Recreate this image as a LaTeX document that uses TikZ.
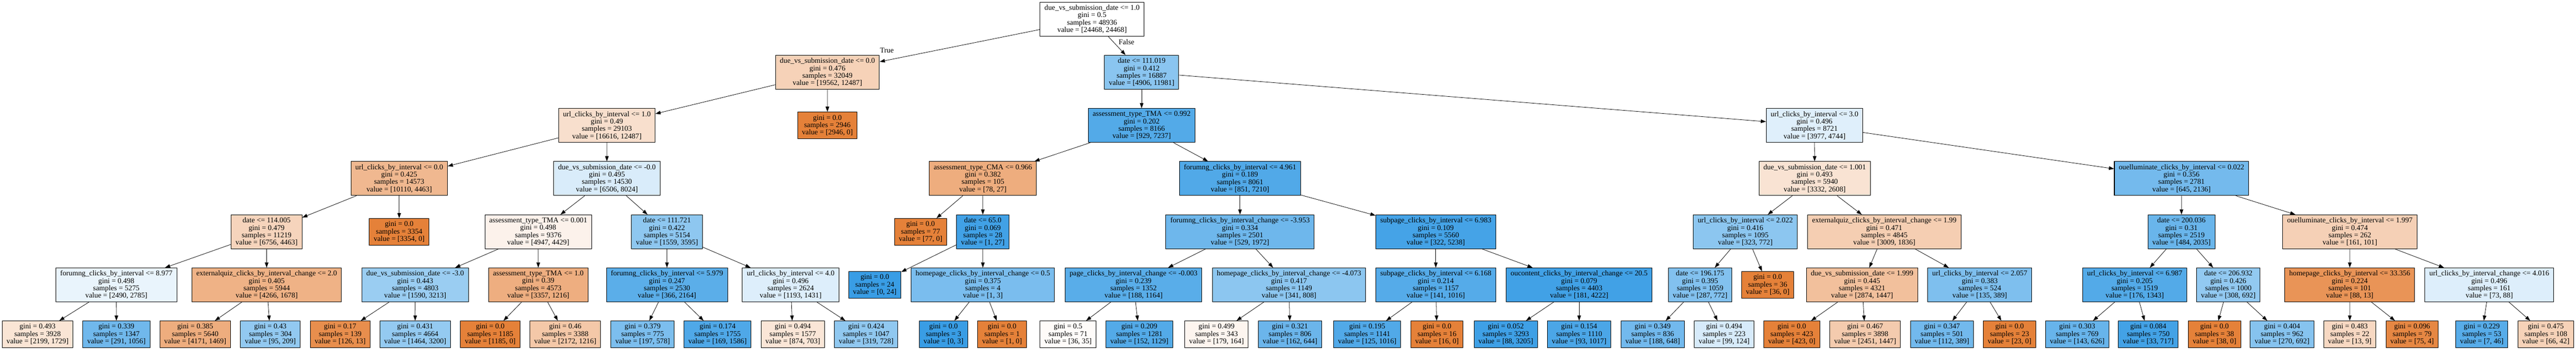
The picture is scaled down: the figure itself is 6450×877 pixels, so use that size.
\documentclass[tikz,border=0pt]{standalone}
\usepackage{fontspec}
\setmainfont{Liberation Serif}
\usepackage{tikz}
\usetikzlibrary{arrows.meta}
\definecolor{clsA}{RGB}{229,129,57}
\definecolor{clsB}{RGB}{57,157,229}
\newcommand{\dtfont}{\fontsize{18.5}{18.5}\selectfont}
\tikzstyle{split}=[draw, rectangle, line width=1.3pt, inner xsep=11pt, inner ysep=0pt, minimum height=85pt, align=center, font=\dtfont]
\tikzstyle{leaf}=[split, minimum height=67pt]
\tikzstyle{from}=[<-, >={Triangle[length=13pt,width=9pt]}, line width=1pt]
\tikzstyle{lbl}=[font=\dtfont, inner sep=2pt]
% fill: class colour, shaded by (max-second)/max
\tikzset{val/.code 2 args={%
    \ifnum#1>#2\relax \def\dtcol{clsA}\edef\dtshade{\the\numexpr100*(#1-#2)/#1\relax}%
    \else \def\dtcol{clsB}\edef\dtshade{\the\numexpr100*(#2-#1)/#2\relax}\fi
    \pgfkeysalso{fill=\dtcol!\dtshade!white}}}

\begin{document}
\begin{tikzpicture}[x=1pt, y=-1pt]
    \useasboundingbox (0,0) rectangle (6450,877);
        \node[split, val={24468}{24468}] (T) at (2734.4, 48) {due\_vs\_submission\_date <= 1.0\\gini = 0.5\\samples = 48936\\value = [24468, 24468]}
        ;
        % left half
        \node[split, val={19562}{12487}] (TL) at (2071.8, 181) {due\_vs\_submission\_date <= 0.0\\gini = 0.476\\samples = 32049\\value = [19562, 12487]}
            edge[from] node[lbl, pos=0.045, above=16pt] (lt) {True} (T)
        ;
        \node[split, val={16616}{12487}] (TLL) at (1519.5, 314.5) {url\_clicks\_by\_interval <= 1.0\\gini = 0.49\\samples = 29103\\value = [16616, 12487]}
            edge[from] (TL)
        ;
        \node[split, val={10110}{4463}] (TLLL) at (999.5, 447.5) {url\_clicks\_by\_interval <= 0.0\\gini = 0.425\\samples = 14573\\value = [10110, 4463]}
            edge[from] (TLL)
        ;
        \node[split, val={6756}{4463}] (TLLLL) at (667.5, 581) {date <= 114.005\\gini = 0.479\\samples = 11219\\value = [6756, 4463]}
            edge[from] (TLLL)
        ;
        \node[split, val={2490}{2785}] (TLLLLL) at (291.3, 714) {forumng\_clicks\_by\_interval <= 8.977\\gini = 0.498\\samples = 5275\\value = [2490, 2785]}
            edge[from] (TLLLL)
        ;
        \node[leaf, val={2199}{1729}] (TLLLLLL) at (94, 838) {gini = 0.493\\samples = 3928\\value = [2199, 1729]}
            edge[from] (TLLLLL)
        ;
        \node[leaf, val={291}{1056}] (TLLLLLR) at (291.5, 838) {gini = 0.339\\samples = 1347\\value = [291, 1056]}
            edge[from] (TLLLLL)
        ;
        \node[split, val={4266}{1678}] (TLLLLR) at (667.7, 714) {externalquiz\_clicks\_by\_interval\_change <= 2.0\\gini = 0.405\\samples = 5944\\value = [4266, 1678]}
            edge[from] (TLLLL)
        ;
        \node[leaf, val={4171}{1469}] (TLLLLRL) at (488.8, 838) {gini = 0.385\\samples = 5640\\value = [4171, 1469]}
            edge[from] (TLLLLR)
        ;
        \node[leaf, val={95}{209}] (TLLLLRR) at (677, 838) {gini = 0.43\\samples = 304\\value = [95, 209]}
            edge[from] (TLLLLR)
        ;
        \node[leaf, val={3354}{0}] (TLLLR) at (999.5, 581) {gini = 0.0\\samples = 3354\\value = [3354, 0]}
            edge[from] (TLLL)
        ;
        \node[split, val={6506}{8024}] (TLLR) at (1519.6, 447.5) {due\_vs\_submission\_date <= -0.0\\gini = 0.495\\samples = 14530\\value = [6506, 8024]}
            edge[from] (TLL)
        ;
        \node[split, val={4947}{4429}] (TLLRL) at (1347.6, 581) {assessment\_type\_TMA <= 0.001\\gini = 0.498\\samples = 9376\\value = [4947, 4429]}
            edge[from] (TLLR)
        ;
        \node[split, val={1590}{3213}] (TLLRLL) at (1039.6, 714) {due\_vs\_submission\_date <= -3.0\\gini = 0.443\\samples = 4803\\value = [1590, 3213]}
            edge[from] (TLLRL)
        ;
        \node[leaf, val={126}{13}] (TLLRLLL) at (851.7, 838) {gini = 0.17\\samples = 139\\value = [126, 13]}
            edge[from] (TLLRLL)
        ;
        \node[leaf, val={1464}{3200}] (TLLRLLR) at (1039.5, 838) {gini = 0.431\\samples = 4664\\value = [1464, 3200]}
            edge[from] (TLLRLL)
        ;
        \node[split, val={3357}{1216}] (TLLRLR) at (1347.8, 714) {assessment\_type\_TMA <= 1.0\\gini = 0.39\\samples = 4573\\value = [3357, 1216]}
            edge[from] (TLLRL)
        ;
        \node[leaf, val={1185}{0}] (TLLRLRL) at (1227.5, 838) {gini = 0.0\\samples = 1185\\value = [1185, 0]}
            edge[from] (TLLRLR)
        ;
        \node[leaf, val={2172}{1216}] (TLLRLRR) at (1415.3, 838) {gini = 0.46\\samples = 3388\\value = [2172, 1216]}
            edge[from] (TLLRLR)
        ;
        \node[split, val={1559}{3595}] (TLLRR) at (1670, 581) {date <= 111.721\\gini = 0.422\\samples = 5154\\value = [1559, 3595]}
            edge[from] (TLLR)
        ;
        \node[split, val={366}{2164}] (TLLRRL) at (1670, 714) {forumng\_clicks\_by\_interval <= 5.979\\gini = 0.247\\samples = 2530\\value = [366, 2164]}
            edge[from] (TLLRR)
        ;
        \node[leaf, val={197}{578}] (TLLRRLL) at (1609, 838) {gini = 0.379\\samples = 775\\value = [197, 578]}
            edge[from] (TLLRRL)
        ;
        \node[leaf, val={169}{1586}] (TLLRRLR) at (1796.7, 838) {gini = 0.174\\samples = 1755\\value = [169, 1586]}
            edge[from] (TLLRRL)
        ;
        \node[split, val={1193}{1431}] (TLLRRR) at (1979.7, 714) {url\_clicks\_by\_interval <= 4.0\\gini = 0.496\\samples = 2624\\value = [1193, 1431]}
            edge[from] (TLLRR)
        ;
        \node[leaf, val={874}{703}] (TLLRRRL) at (1985, 838) {gini = 0.494\\samples = 1577\\value = [874, 703]}
            edge[from] (TLLRRR)
        ;
        \node[leaf, val={319}{728}] (TLLRRRR) at (2168.8, 838) {gini = 0.424\\samples = 1047\\value = [319, 728]}
            edge[from] (TLLRRR)
        ;
        \node[leaf, val={2946}{0}] (TLR) at (2071.7, 314.5) {gini = 0.0\\samples = 2946\\value = [2946, 0]}
            edge[from] (TL)
        ;
        % right half
        \node[split, val={4906}{11981}] (TR) at (2858.5, 181) {date <= 111.019\\gini = 0.412\\samples = 16887\\value = [4906, 11981]}
            edge[from] node[lbl, pos=0.7, right=11pt] (lf) {False} (T)
        ;
        \node[split, val={929}{7237}] (TRL) at (2858.5, 314.5) {assessment\_type\_TMA <= 0.992\\gini = 0.202\\samples = 8166\\value = [929, 7237]}
            edge[from] (TR)
        ;
        \node[split, val={78}{27}] (TRLL) at (2461, 447.5) {assessment\_type\_CMA <= 0.966\\gini = 0.382\\samples = 105\\value = [78, 27]}
            edge[from] (TRL)
        ;
        \node[leaf, val={77}{0}] (TRLLL) at (2305, 581) {gini = 0.0\\samples = 77\\value = [77, 0]}
            edge[from] (TRLL)
        ;
        \node[split, val={1}{27}] (TRLLR) at (2460.8, 581) {date <= 65.0\\gini = 0.069\\samples = 28\\value = [1, 27]}
            edge[from] (TRLL)
        ;
        \node[leaf, val={0}{24}] (TRLLRL) at (2190.4, 714) {gini = 0.0\\samples = 24\\value = [0, 24]}
            edge[from] (TRLLR)
        ;
        \node[split, val={1}{3}] (TRLLRR) at (2461, 714) {homepage\_clicks\_by\_interval\_change <= 0.5\\gini = 0.375\\samples = 4\\value = [1, 3]}
            edge[from] (TRLLR)
        ;
        \node[leaf, val={0}{3}] (TRLLRRL) at (2362.5, 838) {gini = 0.0\\samples = 3\\value = [0, 3]}
            edge[from] (TRLLRR)
        ;
        \node[leaf, val={1}{0}] (TRLLRRR) at (2509, 838) {gini = 0.0\\samples = 1\\value = [1, 0]}
            edge[from] (TRLLRR)
        ;
        \node[split, val={851}{7210}] (TRLR) at (3104.8, 447.5) {forumng\_clicks\_by\_interval <= 4.961\\gini = 0.189\\samples = 8061\\value = [851, 7210]}
            edge[from] (TRL)
        ;
        \node[split, val={529}{1972}] (TRLRL) at (3104.8, 581) {forumng\_clicks\_by\_interval\_change <= -3.953\\gini = 0.334\\samples = 2501\\value = [529, 1972]}
            edge[from] (TRLR)
        ;
        \node[split, val={188}{1164}] (TRLRLL) at (2838.2, 714) {page\_clicks\_by\_interval\_change <= -0.003\\gini = 0.239\\samples = 1352\\value = [188, 1164]}
            edge[from] (TRLRL)
        ;
        \node[leaf, val={36}{35}] (TRLRLLL) at (2674.3, 838) {gini = 0.5\\samples = 71\\value = [36, 35]}
            edge[from] (TRLRLL)
        ;
        \node[leaf, val={152}{1129}] (TRLRLLR) at (2852.7, 838) {gini = 0.209\\samples = 1281\\value = [152, 1129]}
            edge[from] (TRLRLL)
        ;
        \node[split, val={341}{808}] (TRLRLR) at (3227.5, 714) {homepage\_clicks\_by\_interval\_change <= -4.073\\gini = 0.417\\samples = 1149\\value = [341, 808]}
            edge[from] (TRLRL)
        ;
        \node[leaf, val={179}{164}] (TRLRLRL) at (3046, 838) {gini = 0.499\\samples = 343\\value = [179, 164]}
            edge[from] (TRLRLR)
        ;
        \node[leaf, val={162}{644}] (TRLRLRR) at (3230, 838) {gini = 0.321\\samples = 806\\value = [162, 644]}
            edge[from] (TRLRLR)
        ;
        \node[split, val={322}{5238}] (TRLRR) at (3595, 581) {subpage\_clicks\_by\_interval <= 6.983\\gini = 0.109\\samples = 5560\\value = [322, 5238]}
            edge[from] (TRLR)
        ;
        \node[split, val={141}{1016}] (TRLRRL) at (3595, 714) {subpage\_clicks\_by\_interval <= 6.168\\gini = 0.214\\samples = 1157\\value = [141, 1016]}
            edge[from] (TRLRR)
        ;
        \node[leaf, val={125}{1016}] (TRLRRLL) at (3423.4, 838) {gini = 0.195\\samples = 1141\\value = [125, 1016]}
            edge[from] (TRLRRL)
        ;
        \node[leaf, val={16}{0}] (TRLRRLR) at (3598, 838) {gini = 0.0\\samples = 16\\value = [16, 0]}
            edge[from] (TRLRRL)
        ;
        \node[split, val={181}{4222}] (TRLRRR) at (3954, 714) {oucontent\_clicks\_by\_interval\_change <= 20.5\\gini = 0.079\\samples = 4403\\value = [181, 4222]}
            edge[from] (TRLRR)
        ;
        \node[leaf, val={88}{3205}] (TRLRRRL) at (3770.3, 838) {gini = 0.052\\samples = 3293\\value = [88, 3205]}
            edge[from] (TRLRRR)
        ;
        \node[leaf, val={93}{1017}] (TRLRRRR) at (3954, 838) {gini = 0.154\\samples = 1110\\value = [93, 1017]}
            edge[from] (TRLRRR)
        ;
        \node[split, val={3977}{4744}] (TRR) at (4543.3, 314.5) {url\_clicks\_by\_interval <= 3.0\\gini = 0.496\\samples = 8721\\value = [3977, 4744]}
            edge[from] (TR)
        ;
        \node[split, val={3332}{2608}] (TRRL) at (4543.7, 447.5) {due\_vs\_submission\_date <= 1.001\\gini = 0.493\\samples = 5940\\value = [3332, 2608]}
            edge[from] (TRR)
        ;
        \node[split, val={323}{772}] (TRRLL) at (4370, 581) {url\_clicks\_by\_interval <= 2.022\\gini = 0.416\\samples = 1095\\value = [323, 772]}
            edge[from] (TRRL)
        ;
        \node[split, val={287}{772}] (TRRLLL) at (4256.8, 714) {date <= 196.175\\gini = 0.395\\samples = 1059\\value = [287, 772]}
            edge[from] (TRRLL)
        ;
        \node[leaf, val={188}{648}] (TRRLLLL) at (4138, 838) {gini = 0.349\\samples = 836\\value = [188, 648]}
            edge[from] (TRRLLL)
        ;
        \node[leaf, val={99}{124}] (TRRLLLR) at (4317, 838) {gini = 0.494\\samples = 223\\value = [99, 124]}
            edge[from] (TRRLLL)
        ;
        \node[leaf, val={36}{0}] (TRRLLR) at (4426, 714) {gini = 0.0\\samples = 36\\value = [36, 0]}
            edge[from] (TRRLL)
        ;
        \node[split, val={3009}{1836}] (TRRLR) at (4718, 581) {externalquiz\_clicks\_by\_interval\_change <= 1.99\\gini = 0.471\\samples = 4845\\value = [3009, 1836]}
            edge[from] (TRRL)
        ;
        \node[split, val={2874}{1447}] (TRRLRL) at (4662.4, 714) {due\_vs\_submission\_date <= 1.999\\gini = 0.445\\samples = 4321\\value = [2874, 1447]}
            edge[from] (TRRLR)
        ;
        \node[leaf, val={423}{0}] (TRRLRLL) at (4486.4, 838) {gini = 0.0\\samples = 423\\value = [423, 0]}
            edge[from] (TRRLRL)
        ;
        \node[leaf, val={2451}{1447}] (TRRLRLR) at (4670, 838) {gini = 0.467\\samples = 3898\\value = [2451, 1447]}
            edge[from] (TRRLRL)
        ;
        \node[split, val={135}{389}] (TRRLRR) at (4957, 714) {url\_clicks\_by\_interval <= 2.057\\gini = 0.383\\samples = 524\\value = [135, 389]}
            edge[from] (TRRLR)
        ;
        \node[leaf, val={112}{389}] (TRRLRRL) at (4862.5, 838) {gini = 0.347\\samples = 501\\value = [112, 389]}
            edge[from] (TRRLRR)
        ;
        \node[leaf, val={23}{0}] (TRRLRRR) at (5031.6, 838) {gini = 0.0\\samples = 23\\value = [23, 0]}
            edge[from] (TRRLRR)
        ;
        \node[split, val={645}{2136}] (TRRR) at (5462.2, 447.5) {ouelluminate\_clicks\_by\_interval <= 0.022\\gini = 0.356\\samples = 2781\\value = [645, 2136]}
            edge[from] (TRR)
        ;
        \node[split, val={484}{2035}] (TRRRL) at (5462, 581) {date <= 200.036\\gini = 0.31\\samples = 2519\\value = [484, 2035]}
            edge[from] (TRRR)
        ;
        \node[split, val={176}{1343}] (TRRRLL) at (5345, 714) {url\_clicks\_by\_interval <= 6.987\\gini = 0.205\\samples = 1519\\value = [176, 1343]}
            edge[from] (TRRRL)
        ;
        \node[leaf, val={143}{626}] (TRRRLLL) at (5201, 838) {gini = 0.303\\samples = 769\\value = [143, 626]}
            edge[from] (TRRRLL)
        ;
        \node[leaf, val={33}{717}] (TRRRLLR) at (5379, 838) {gini = 0.084\\samples = 750\\value = [33, 717]}
            edge[from] (TRRRLL)
        ;
        \node[split, val={308}{692}] (TRRRLR) at (5579.4, 714) {date <= 206.932\\gini = 0.426\\samples = 1000\\value = [308, 692]}
            edge[from] (TRRRL)
        ;
        \node[leaf, val={38}{0}] (TRRRLRL) at (5544.8, 838) {gini = 0.0\\samples = 38\\value = [38, 0]}
            edge[from] (TRRRLR)
        ;
        \node[leaf, val={270}{692}] (TRRRLRR) at (5714, 838) {gini = 0.404\\samples = 962\\value = [270, 692]}
            edge[from] (TRRRLR)
        ;
        \node[split, val={161}{101}] (TRRRR) at (5883.7, 581) {ouelluminate\_clicks\_by\_interval <= 1.997\\gini = 0.474\\samples = 262\\value = [161, 101]}
            edge[from] (TRRR)
        ;
        \node[split, val={88}{13}] (TRRRRL) at (5883.4, 714) {homepage\_clicks\_by\_interval <= 33.356\\gini = 0.224\\samples = 101\\value = [88, 13]}
            edge[from] (TRRRR)
        ;
        \node[leaf, val={13}{9}] (TRRRRLL) at (5883.6, 838) {gini = 0.483\\samples = 22\\value = [13, 9]}
            edge[from] (TRRRRL)
        ;
        \node[leaf, val={75}{4}] (TRRRRLR) at (6039.7, 838) {gini = 0.096\\samples = 79\\value = [75, 4]}
            edge[from] (TRRRRL)
        ;
        \node[split, val={73}{88}] (TRRRRR) at (6232.8, 714) {url\_clicks\_by\_interval\_change <= 4.016\\gini = 0.496\\samples = 161\\value = [73, 88]}
            edge[from] (TRRRR)
        ;
        \node[leaf, val={7}{46}] (TRRRRRL) at (6214, 838) {gini = 0.229\\samples = 53\\value = [7, 46]}
            edge[from] (TRRRRR)
        ;
        \node[leaf, val={66}{42}] (TRRRRRR) at (6374.4, 838) {gini = 0.475\\samples = 108\\value = [66, 42]}
            edge[from] (TRRRRR)
        ;
    \end{tikzpicture}
\end{document}
